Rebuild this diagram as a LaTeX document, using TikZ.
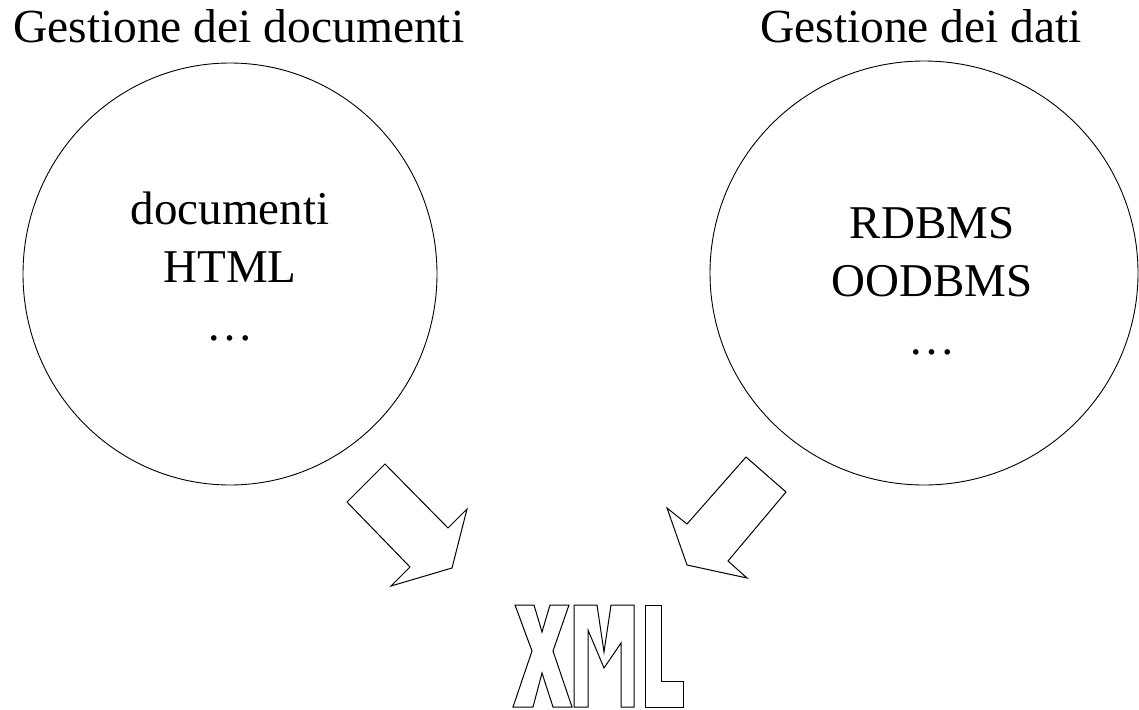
\documentclass[tikz,border=0pt]{standalone}
\usepackage{fontspec}
\setmainfont{Liberation Serif}
\usetikzlibrary{shapes.geometric}

\begin{document}
\begin{tikzpicture}[x=1pt, y=-1pt,
    bubble/.style={draw, ellipse, inner sep=0pt, line width=0.9pt},
    heading/.style={anchor=base west, inner sep=0pt, font=\fontsize{47.5}{56}\selectfont},
    inside/.style={anchor=base, align=center, inner sep=0pt, font=\fontsize{47}{58}\selectfont},
    block/.style={draw, line width=1pt, line join=miter},
    letter/.style={draw, line width=1pt, line join=miter}]

  \useasboundingbox (0,0) rectangle (1139,709);

  \node[heading] (docstitle) at (13,43) {Gestione dei documenti};
  \node[heading] (datatitle) at (760,43) {Gestione dei dati};

  \node[bubble, minimum width=414pt, minimum height=422pt] (docs) at (230,274) {};
  \node[bubble, minimum width=428pt, minimum height=424pt] (data) at (924,273) {};

  % base anchor sits on the last line
  \node[inside] (docstext) at (230,340) {documenti\\HTML\\\dots};
  \node[inside] (datatext) at (932,354) {RDBMS\\OODBMS\\\dots};

  % block arrows
  \draw[block] (385,464) -- (448,528) -- (467,509) -- (452,568) -- (391,586)
    -- (410,567) -- (347,502) -- cycle;
  \draw[block] (746,457) -- (786,492) -- (728,561) -- (747,578) -- (687,565)
    -- (667,508) -- (687,524) -- cycle;

  % XML outline letters
  \draw[letter] (515,605) -- (534,605) -- (542,632) -- (550,605) -- (569,605)
    -- (553,651) -- (572,707) -- (553,707) -- (542,673) -- (533,707)
    -- (513,707) -- (532,651) -- cycle;
  \draw[letter] (574,605) -- (597,605) -- (604,652) -- (611,605) -- (634,605)
    -- (634,707) -- (621,707) -- (621,643) -- (604,668) -- (588,630)
    -- (588,707) -- (574,707) -- cycle;
  \draw[letter] (645,605) -- (661,605) -- (661,681) -- (683,681) -- (683,707)
    -- (645,707) -- cycle;

\end{tikzpicture}
\end{document}
